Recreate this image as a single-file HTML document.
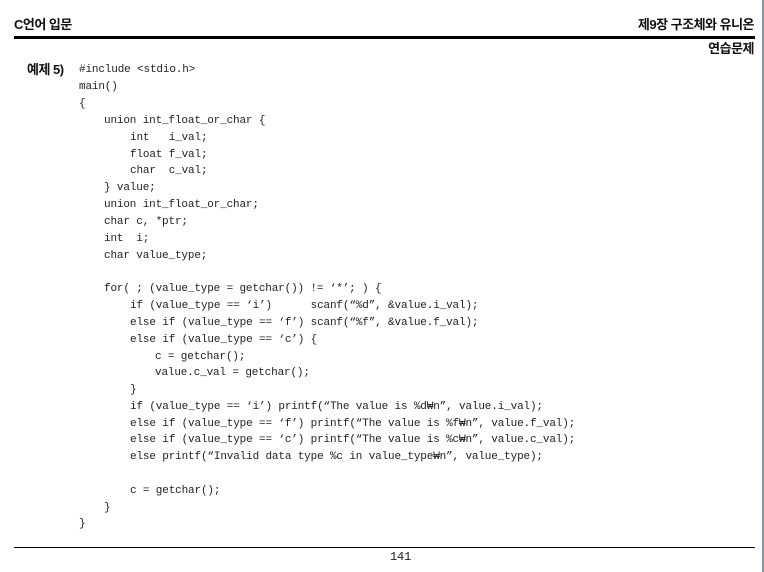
<!DOCTYPE html>
<html><head><meta charset="utf-8"><style>
body{margin:0;background:#fff;}
#p{position:relative;width:764px;height:572px;overflow:hidden;background:#fff;font-family:"Liberation Sans","Noto Sans CJK KR",sans-serif;color:#111;}
.h{position:absolute;font-weight:bold;font-size:13px;line-height:14px;letter-spacing:-0.5px}
.c{position:absolute;font-family:"Liberation Mono","Noto Sans CJK KR",monospace;font-size:11px;line-height:13px;white-space:pre;color:#222;letter-spacing:-0.15px}
</style></head><body><div id="p">
<div class="h" style="left:14px;top:18px">C언어 입문</div>
<div class="h" style="right:10px;top:18px">제9장 구조체와 유니온</div>
<div style="position:absolute;left:14px;top:36px;width:741px;height:3px;background:#000"></div>
<div class="h" style="right:10px;top:42px">연습문제</div>
<div class="h" style="left:27px;top:63px;font-size:13px">예제 5)</div>
<div style="position:absolute;left:762px;top:0;width:2px;height:572px;background:#8a9a9a"></div>
<div class="c" style="left:79px;top:64px">#include &lt;stdio.h&gt;</div>
<div class="c" style="left:79px;top:81px">main()</div>
<div class="c" style="left:79px;top:98px">{</div>
<div class="c" style="left:104px;top:115px">union int_float_or_char {</div>
<div class="c" style="left:130px;top:132px">int   i_val;</div>
<div class="c" style="left:130px;top:149px">float f_val;</div>
<div class="c" style="left:130px;top:165px">char  c_val;</div>
<div class="c" style="left:104px;top:182px">} value;</div>
<div class="c" style="left:104px;top:199px">union int_float_or_char;</div>
<div class="c" style="left:104px;top:216px">char c, *ptr;</div>
<div class="c" style="left:104px;top:233px">int  i;</div>
<div class="c" style="left:104px;top:250px">char value_type;</div>
<div class="c" style="left:104px;top:283px">for( ; (value_type = getchar()) != ‘*’; ) {</div>
<div class="c" style="left:130px;top:300px">if (value_type == ‘i’)      scanf(“%d”, &amp;value.i_val);</div>
<div class="c" style="left:130px;top:317px">else if (value_type == ‘f’) scanf(“%f”, &amp;value.f_val);</div>
<div class="c" style="left:130px;top:334px">else if (value_type == ‘c’) {</div>
<div class="c" style="left:155px;top:351px">c = getchar();</div>
<div class="c" style="left:155px;top:367px">value.c_val = getchar();</div>
<div class="c" style="left:130px;top:384px">}</div>
<div class="c" style="left:130px;top:401px">if (value_type == ‘i’) printf(“The value is %d₩n”, value.i_val);</div>
<div class="c" style="left:130px;top:418px">else if (value_type == ‘f’) printf(“The value is %f₩n”, value.f_val);</div>
<div class="c" style="left:130px;top:434px">else if (value_type == ‘c’) printf(“The value is %c₩n”, value.c_val);</div>
<div class="c" style="left:130px;top:451px">else printf(“Invalid data type %c in value_type₩n”, value_type);</div>
<div class="c" style="left:130px;top:485px">c = getchar();</div>
<div class="c" style="left:104px;top:502px">}</div>
<div class="c" style="left:79px;top:518px">}</div>
<div style="position:absolute;left:14px;top:547px;width:741px;height:1px;background:#000"></div>
<div class="c" style="left:390px;top:551px;font-size:12px">141</div>
</div></body></html>
